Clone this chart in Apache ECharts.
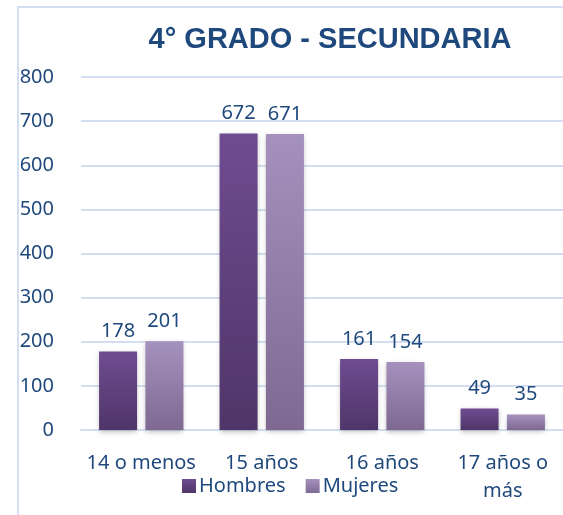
<!DOCTYPE html>
<html>
<head>
<meta charset="utf-8">
<style>
  html, body { margin: 0; padding: 0; background: #fff; }
  #chart { width: 563px; height: 515px; }
</style>
<script src="https://cdn.jsdelivr.net/npm/echarts@6/dist/echarts.min.js"></script>
</head>
<body>
<div id="chart"></div>
<script>
const categories = ['14 o menos', '15 años', '16 años', '17 años o\nmás']
const hombres = [178, 672, 161, 49]
const mujeres = [201, 671, 154, 35]

const textColor = '#1f497d'
const font = 'Noto Sans'

const chart = echarts.init(document.getElementById('chart'))

chart.setOption({
  animation: false,
  graphic: [{
    type: 'rect',
    shape: { x: 18, y: 7, width: 600, height: 600 },
    style: { fill: 'none', stroke: '#d3dff0', lineWidth: 2 },
    z: -1
  }],
  title: {
    text: '4° GRADO - SECUNDARIA',
    left: 325,
    textAlign: 'center',
    top: 20,
    textStyle: {
      color: '#1f497d',
      fontFamily: 'Liberation Sans',
      fontWeight: 'bold',
      fontSize: 29
    }
  },
  legend: {
    data: ['Hombres', 'Mujeres'],
    left: 177,
    top: 471,
    itemWidth: 14,
    itemHeight: 14,
    itemGap: 20,
    icon: 'rect',
    textStyle: { color: textColor, fontFamily: font, fontSize: 20, padding: [0, 0, 0, -2] }
  },
  grid: {
    left: 81,
    right: -1,
    top: 77,
    bottom: 85
  },
  xAxis: {
    type: 'category',
    data: categories,
    axisTick: { show: false },
    axisLine: { lineStyle: { color: '#d3dff0', width: 2 } },
    axisLabel: {
      interval: 0,
      margin: 19,
      color: textColor,
      fontFamily: font,
      fontSize: 20,
      lineHeight: 28
    }
  },
  yAxis: {
    type: 'value',
    min: 0,
    max: 800,
    interval: 100,
    axisLine: { show: false },
    axisTick: { show: false },
    splitLine: { lineStyle: { color: '#d3dff0', width: 2 } },
    axisLabel: {
      margin: 27,
      color: textColor,
      fontFamily: font,
      fontSize: 20
    }
  },
  series: [{
    name: 'Hombres',
    type: 'bar',
    data: hombres,
    barWidth: 38,
    barGap: '22%',
    itemStyle: {
      color: new echarts.graphic.LinearGradient(0, 0, 0, 1, [
        { offset: 0, color: '#6f4c91' },
        { offset: 1, color: '#4f3568' }
      ]),
      shadowColor: 'rgba(0,0,0,0.25)',
      shadowBlur: 5,
      shadowOffsetY: 2
    },
    label: {
      show: true,
      position: 'top',
      distance: 10,
      color: textColor,
      fontFamily: font,
      fontSize: 20
    }
  }, {
    name: 'Mujeres',
    type: 'bar',
    data: mujeres,
    barWidth: 38,
    itemStyle: {
      color: new echarts.graphic.LinearGradient(0, 0, 0, 1, [
        { offset: 0, color: '#a591bd' },
        { offset: 1, color: '#7d6991' }
      ]),
      shadowColor: 'rgba(0,0,0,0.25)',
      shadowBlur: 5,
      shadowOffsetY: 2
    },
    label: {
      show: true,
      position: 'top',
      distance: 10,
      color: textColor,
      fontFamily: font,
      fontSize: 20
    }
  }]
})
</script>
</body>
</html>
